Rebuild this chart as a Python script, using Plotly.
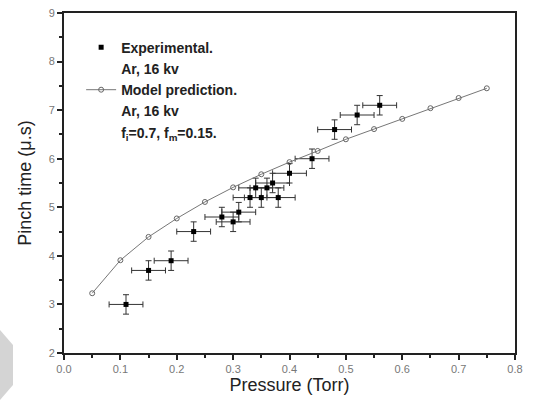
import plotly.graph_objects as go

# model prediction curve
model_p = [0.05, 0.10, 0.15, 0.20, 0.25, 0.30, 0.35, 0.40, 0.45, 0.50, 0.55, 0.60, 0.65, 0.70, 0.75]
model_t = [3.23, 3.91, 4.39, 4.77, 5.11, 5.41, 5.68, 5.93, 6.16, 6.40, 6.61, 6.82, 7.04, 7.25, 7.45]

# experimental points (Ar, 16 kV)
exp_p = [0.11, 0.15, 0.19, 0.23, 0.28, 0.30, 0.31, 0.33, 0.34, 0.35, 0.36, 0.37, 0.38, 0.40, 0.44, 0.48, 0.52, 0.56]
exp_t = [3.0, 3.7, 3.9, 4.5, 4.8, 4.7, 4.9, 5.2, 5.4, 5.2, 5.4, 5.5, 5.2, 5.7, 6.0, 6.6, 6.9, 7.1]
err_p = 0.03
err_t = 0.2

font = "Liberation Sans, Arial, sans-serif"


def legend_line(text, group):
    # text-only legend row (invisible symbol)
    return go.Scatter(x=[None], y=[None], mode='lines', name=text, legendgroup=group,
                      line=dict(width=0, color='rgba(0,0,0,0)'), hoverinfo='skip')


fig = go.Figure()

fig.add_trace(go.Scatter(
    x=exp_p, y=exp_t, mode='markers',
    name='<b>Experimental.</b>', legendgroup='exp',
    marker=dict(symbol='square', size=5, color='black'),
    error_x=dict(type='constant', value=err_p, color='#333', thickness=1, width=3),
    error_y=dict(type='constant', value=err_t, color='#333', thickness=1, width=3),
))
fig.add_trace(legend_line('<b>Ar, 16 kv</b>', 'exp'))

fig.add_trace(go.Scatter(
    x=model_p, y=model_t, mode='lines+markers',
    name='<b>Model prediction.</b>', legendgroup='model',
    line=dict(color='#777', width=1),
    marker=dict(symbol='circle-open', size=5, color='#666', line=dict(width=1)),
))
fig.add_trace(legend_line('<b>Ar, 16 kv</b>', 'model'))
fig.add_trace(legend_line('<b>f<sub>i</sub>=0.7, f<sub>m</sub>=0.15.</b>', 'model'))

# grey scan artefact at the lower left
fig.add_shape(type='path', xref='paper', yref='paper',
              path='M -0.1419 0.0676 L -0.1131 0.0235 L -0.1131 -0.0941 L -0.1419 -0.138 Z',
              fillcolor='#d4d4d4', line=dict(width=0))

fig.update_xaxes(
    range=[0, 0.8], dtick=0.1, tickformat='.1f', automargin=False,
    showline=True, linecolor='#222', linewidth=2, mirror=True,
    ticks='outside', ticklen=5, tickwidth=1.5, tickcolor='#222',
    minor=dict(dtick=0.05, ticks='outside', ticklen=3, tickcolor='#222'),
    showgrid=False, zeroline=False,
    tickfont=dict(family=font, size=11, color='#777'),
    title=dict(text='Pressure (Torr)', font=dict(family=font, size=18, color='#222'), standoff=4),
)
fig.update_yaxes(
    range=[2, 9], dtick=1, automargin=False,
    showline=True, linecolor='#222', linewidth=2, mirror=True,
    ticks='outside', ticklen=5, tickwidth=1.5, tickcolor='#222',
    minor=dict(dtick=0.5, ticks='outside', ticklen=3, tickcolor='#222'),
    showgrid=False, zeroline=False,
    tickfont=dict(family=font, size=11, color='#777'),
    title=dict(text='Pinch time (\u03bc.s)', font=dict(family=font, size=18, color='#222'), standoff=12),
)

fig.update_layout(
    width=533, height=407,
    margin=dict(l=64, r=18, t=13, b=54),
    plot_bgcolor='white', paper_bgcolor='white',
    showlegend=True,
    legend=dict(x=0.038, y=0.945, xanchor='left', yanchor='top',
                valign='top', bgcolor='rgba(0,0,0,0)', tracegroupgap=0,
                font=dict(family=font, size=14, color='#222')),
)

# drop the browser's default 8px body margin so the figure fills the window
fig.write_html("out.html", config={'displayModeBar': False},
               post_script="document.body.style.margin = '0';")
